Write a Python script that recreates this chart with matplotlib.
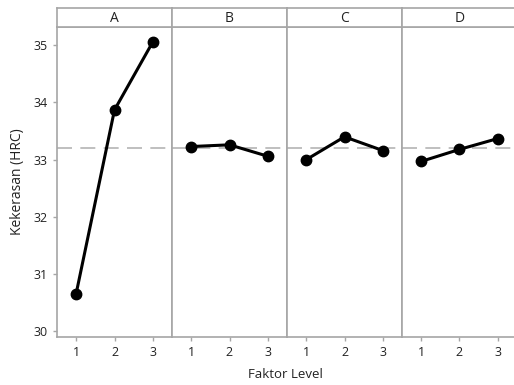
import numpy as np
from matplotlib import pyplot as plt

# main effects means for each factor, levels 1..3
factors = ['A', 'B', 'C', 'D']
levels = [1, 2, 3]
means = {
    'A': [30.66, 33.87, 35.06],
    'B': [33.23, 33.26, 33.06],
    'C': [33.00, 33.40, 33.16],
    'D': [32.97, 33.18, 33.37],
}
yticks = [30, 31, 32, 33, 34, 35]

grand_mean = np.mean(means['A'])
border = '#a6a6a6'

plt.rcParams['font.family'] = ['Open Sans', 'DejaVu Sans']

fig = plt.figure(figsize=(5.14, 3.85), dpi=100)

left, right = 57 / 514, 517 / 514
bottom, top, strip_top = 48 / 385, 358 / 385, 377 / 385
w = (right - left) / len(factors)

for i, f in enumerate(factors):
    x0 = left + i * w
    ax = fig.add_axes([x0, bottom, w, top - bottom])
    ax.plot(levels, means[f], color='black', lw=2.2, marker='o', ms=7.5, zorder=3)
    ax.axhline(grand_mean, color='#b4b4b4', lw=1.2, dashes=(9, 5), zorder=1)
    ax.set_xlim(0.5, 3.5)
    ax.set_ylim(29.9, 35.32)
    ax.set_xticks(levels)
    ax.set_yticks(yticks)
    for s in ax.spines.values():
        s.set_color(border)
        s.set_linewidth(1.2)
    ax.tick_params(axis='both', colors=border, labelcolor='#222222', labelsize=9,
                   length=3, width=1)
    if i > 0:
        ax.tick_params(axis='y', left=False, labelleft=False)

    sx = fig.add_axes([x0, top, w, strip_top - top])
    sx.set_xticks([])
    sx.set_yticks([])
    for s in sx.spines.values():
        s.set_color(border)
        s.set_linewidth(1.2)
    sx.text(0.5, 0.45, f, ha='center', va='center', fontsize=10, color='#222222',
            transform=sx.transAxes)

fig.text(18 / 514, (bottom + top) / 2, 'Kekerasan (HRC)', rotation=90, ha='center',
         va='center', fontsize=10, color='#222222')
fig.text(285 / 514, 10 / 385, 'Faktor Level', ha='center', va='center', fontsize=9.5,
         color='#222222')

fig.savefig('out.png', dpi=100)
